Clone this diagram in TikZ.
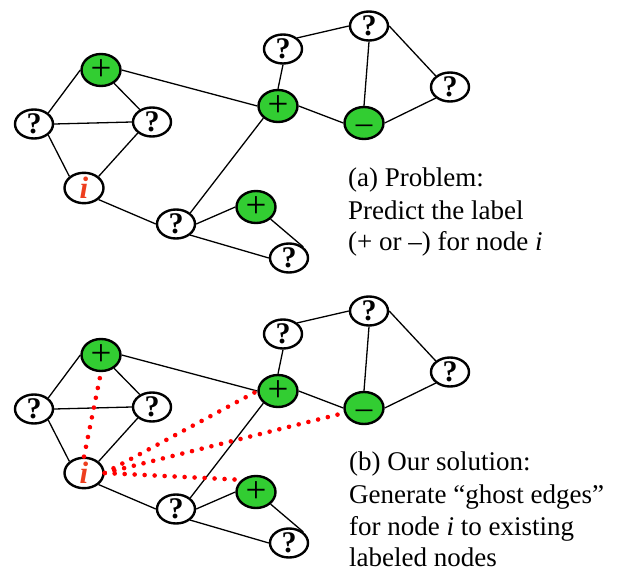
\documentclass[tikz,border=0pt]{standalone}
\usepackage{fontspec}
\setmainfont{Liberation Serif}
\usetikzlibrary{shapes.geometric}

\definecolor{posgreen}{RGB}{50,205,50}
\definecolor{ilabel}{RGB}{238,62,30}
\definecolor{ghost}{RGB}{255,0,0}

\tikzset{
  netnode/.style={ellipse, draw=black, line width=2.4pt, inner sep=0pt},
  qnode/.style={netnode, fill=white, minimum width=38pt, minimum height=29pt,
    font=\fontsize{30}{30}\selectfont\bfseries},
  inode/.style={netnode, fill=white, minimum width=39pt, minimum height=29pt,
    text=ilabel, font=\fontsize{31}{31}\selectfont\bfseries\itshape},
  gnode/.style={netnode, fill=posgreen, minimum width=39pt, minimum height=32pt,
    font=\fontsize{37}{37}\selectfont},
  mnode/.style={gnode, font=\fontsize{33}{33}\selectfont,
    text height=21.5pt, text depth=0pt},
  edge/.style={line width=1.3pt, black},
  ghostedge/.style={draw=ghost, line width=4.6pt, line cap=round,
    dash pattern=on 0pt off 10pt},
  caption/.style={anchor=base west, inner sep=0pt,
    font=\fontsize{27}{31.5}\selectfont}
}

% One copy of the network; #1 prefixes the node names
\newcommand\drawnet[1]{%
  \node[gnode] (#1p1) at (101,70) {+};
  \node[qnode] (#1ql) at (34,124) {?};
  \node[qnode] (#1qm) at (152,122) {?};
  \node[inode] (#1i) at (84,188) {i};
  \node[qnode] (#1qb) at (176,224) {?};
  \node[gnode] (#1ps) at (256,207) {+};
  \node[qnode] (#1qbr) at (289,258) {?};
  \node[gnode] (#1pc) at (278,106) {+};
  \node[qnode] (#1qa) at (283,49) {?};
  \node[qnode] (#1qt) at (369,26) {?};
  \node[qnode] (#1qr) at (450,87) {?};
  \node[mnode] (#1m) at (364,123) {–};
  \draw[edge] (#1p1.west) -- (#1ql.north east);
  \draw[edge] (#1p1) -- (#1qm);
  \draw[edge] (#1p1.east) -- (#1pc.west);
  \draw[edge] (#1ql.east) -- (#1qm.west);
  \draw[edge] (#1ql.south east) -- (#1i.north west);
  \draw[edge] (#1qm.south west) -- (#1i.north east);
  \draw[edge] (#1i.south east) -- (#1qb.west);
  \draw[edge] (#1qb.north east) -- (#1pc.south west);
  \draw[edge] (#1qb.east) -- (#1ps.west);
  \draw[edge] (#1qb.south east) -- (#1qbr.west);
  \draw[edge] (#1ps.south east) -- (#1qbr.north east);
  \draw[edge] (#1pc.north) -- (#1qa.south);
  \draw[edge] (#1pc.east) -- (#1m.west);
  \draw[edge] (#1qa.north east) -- (#1qt.west);
  \draw[edge] (#1qt.south) -- (#1m.north);
  \draw[edge] (#1qt.east) -- (#1qr.north west);
  \draw[edge] (#1qr.south west) -- (#1m.east);
}

\begin{document}
\begin{tikzpicture}[x=1pt, y=-1pt]
  \useasboundingbox (0,0) rectangle (618,572);

  % (a) the problem
  \drawnet{a}
  \node[caption] (ta1) at (348,187) {(a) Problem:};
  \node[caption] (ta2) at (348,219) {Predict the label};
  \node[caption] (ta3) at (348,250) {(+ or –) for node \textit{i}};

  % (b) the same network with ghost edges from node i
  \begin{scope}[yshift=-285pt]
    \drawnet{b}
  \end{scope}
  \draw[ghostedge] (bi.north) -- (bp1.south);
  \draw[ghostedge] (bi.east) -- (bpc.west);
  \draw[ghostedge] (bi.east) -- (bm);
  \draw[ghostedge] (bi.east) -- (bps.north west);

  \node[caption] (tb1) at (349,470) {(b) Our solution:};
  \node[caption] (tb2) at (349,503) {Generate “ghost edges”};
  \node[caption] (tb3) at (349,535) {for node \textit{i} to existing};
  \node[caption] (tb4) at (349,566) {labeled nodes};
\end{tikzpicture}
\end{document}
